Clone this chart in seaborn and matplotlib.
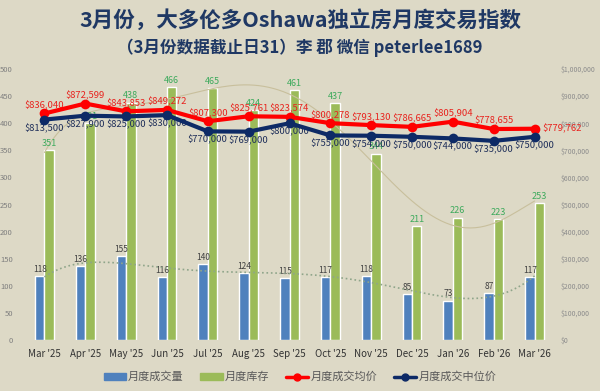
import numpy as np
import pandas as pd
import matplotlib
matplotlib.use("Agg")
import matplotlib.pyplot as plt
import seaborn as sns
from matplotlib.lines import Line2D
from matplotlib.patches import Patch

# Dados
meses = ["Mar '25", "Apr '25", "May '25", "Jun '25", "Jul '25", "Aug '25", "Sep '25",
         "Oct '25", "Nov '25", "Dec '25", "Jan '26", "Feb '26", "Mar '26"]
vendas = [118, 136, 155, 116, 140, 124, 115, 117, 118, 85, 73, 87, 117]
estoque = [351, 401, 438, 466, 465, 424, 461, 437, 344, 211, 226, 223, 253]
preco_medio = [836040, 872599, 843853, 849272, 807300, 825761, 823574,
               800278, 793130, 786665, 805904, 778655, 779762]
preco_mediano = [813500, 827900, 825000, 830000, 770000, 769000, 800000,
                 755000, 754000, 750000, 744000, 735000, 750000]

titulo1 = "3月份，大多伦多Oshawa独立房月度交易指数"
titulo2 = "（3月份数据截止日31）李 郡 微信 peterlee1689"
nomes = ["月度成交量", "月度库存", "月度成交均价", "月度成交中位价"]

bg = "#DDD9C6"
azul = "#4F81BD"
verde = "#9BBB59"
vermelho = "#FF0000"
marinho = "#0D2A66"

sns.set_theme(style="white")
plt.rcParams['font.family'] = ['Noto Sans CJK SC', 'DejaVu Sans']

fig = plt.figure(figsize=(6, 3.91), dpi=100, facecolor=bg)
ax = fig.add_axes([0.04, 0.13, 0.885, 0.6935])
ax.set_facecolor(bg)

df = pd.DataFrame({"mes": meses * 2,
                   "valor": vendas + estoque,
                   "serie": [nomes[0]] * len(meses) + [nomes[1]] * len(meses)})
sns.barplot(data=df, x="mes", y="valor", hue="serie", palette=[azul, verde],
            width=0.46, gap=0, ax=ax, legend=False, saturation=1)

x = np.arange(len(meses))
# rótulos das barras
for i in x:
    ax.text(i - 0.115, vendas[i] + 4, str(vendas[i]), ha="center", va="bottom",
            fontsize=6, color="#404040")
    ax.text(i + 0.115, estoque[i] + 4, str(estoque[i]), ha="center", va="bottom",
            fontsize=6.5, color="#3DAA5C")

# linhas de tendência polinomiais
xs = np.linspace(0, len(meses) - 1, 200)
tv = np.polyval(np.polyfit(x, vendas, 6), xs)
te = np.polyval(np.polyfit(x, estoque, 6), xs)
ax.plot(xs, tv, ls=":", lw=1.2, color="#8FA58A", zorder=3)
ax.plot(xs, te, ls="-", lw=0.8, color="#C8BF9C", zorder=1)

ax.set_ylim(0, 500)
ax.set_yticks(range(0, 501, 50))
ax.set_xlim(-0.5, len(meses) - 0.5)
ax.set_xlabel("")
ax.set_ylabel("")
ax.tick_params(axis="y", labelsize=5.5, labelcolor="#7F7F7F", length=0, pad=8)
ax.tick_params(axis="x", labelsize=7, labelcolor="#333333", length=0, pad=6)
for s in ax.spines.values():
    s.set_visible(False)

ax2 = ax.twinx()
sns.lineplot(x=x, y=preco_medio, ax=ax2, color=vermelho, lw=3, marker="o",
             markersize=7, markeredgewidth=0, zorder=5)
sns.lineplot(x=x, y=preco_mediano, ax=ax2, color=marinho, lw=3, marker="o",
             markersize=7, markeredgewidth=0, zorder=6)
ultimo = len(meses) - 1
for i in x:
    if i == ultimo:
        # último rótulo do preço médio fica à direita do ponto
        ax2.text(i + 0.18, preco_medio[i], f"${preco_medio[i]:,}", ha="left",
                 va="center", fontsize=6.8, color="#E8231E")
    else:
        ax2.text(i, preco_medio[i] + 12000, f"${preco_medio[i]:,}", ha="center",
                 va="bottom", fontsize=6.8, color="#E8231E")
    ax2.text(i, preco_mediano[i] - 14000, f"${preco_mediano[i]:,}", ha="center",
             va="top", fontsize=6.8, color="#1F2F5A")
ax2.set_ylim(0, 1000000)
ax2.set_yticks(range(0, 1000001, 100000))
ax2.set_yticklabels([f"${v:,}" for v in range(0, 1000001, 100000)])
ax2.tick_params(axis="y", labelsize=5, labelcolor="#8C8C8C", length=0, pad=4)
for s in ax2.spines.values():
    s.set_visible(False)
ax2.grid(False)

fig.text(0.5, 0.948, titulo1, ha="center", va="center", fontsize=15.5,
         fontweight="bold", color="#1F3864")
fig.text(0.5, 0.877, titulo2, ha="center", va="center", fontsize=12,
         fontweight="bold", color="#1F3864")

handles = [Patch(color=azul), Patch(color=verde),
           Line2D([0], [0], color=vermelho, lw=2.5, marker="o", markersize=5),
           Line2D([0], [0], color=marinho, lw=2.5, marker="o", markersize=5)]
fig.legend(handles, nomes, loc="center", bbox_to_anchor=(0.5, 0.036), ncol=4,
           frameon=False, fontsize=8, labelcolor="#595959", handlelength=2,
           handleheight=0.6, columnspacing=1.5, handletextpad=0.2)

fig.savefig("out.png", dpi=100, facecolor=bg)
